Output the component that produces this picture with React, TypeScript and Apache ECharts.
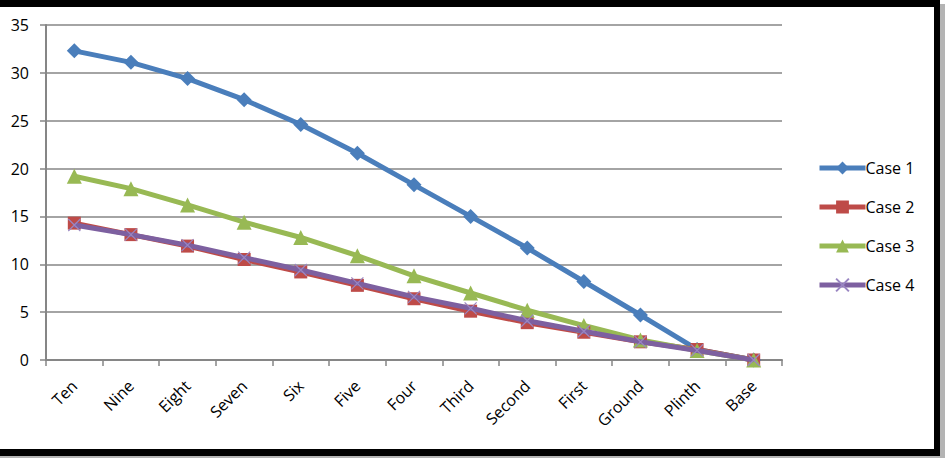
import React, { useEffect, useRef } from "react";
import * as echarts from "echarts";

const floors = ["Ten", "Nine", "Eight", "Seven", "Six", "Five", "Four", "Third", "Second", "First", "Ground", "Plinth", "Base"];
const case1 = [32.3, 31.1, 29.4, 27.2, 24.6, 21.6, 18.3, 15.0, 11.7, 8.2, 4.7, 1.1, 0];
const case2 = [14.3, 13.1, 11.9, 10.5, 9.2, 7.8, 6.4, 5.1, 3.9, 2.9, 1.9, 1.1, 0];
const case3 = [19.2, 17.9, 16.2, 14.4, 12.8, 10.9, 8.8, 7.0, 5.2, 3.6, 2.1, 1.0, 0];
const case4 = [14.1, 13.1, 12.0, 10.7, 9.4, 8.0, 6.6, 5.4, 4.1, 3.0, 1.9, 1.0, 0];
const seriesNames = ["Case 1", "Case 2", "Case 3", "Case 4"];
const colors = ["#4a7ebb", "#be4b48", "#98b954", "#7d60a0"];

const FONT = "'Open Sans', 'Liberation Sans', sans-serif";
const CROSS = "path://M0,0L10,10M10,0L0,10";

export default function App() {
  const ref = useRef<HTMLDivElement>(null);

  useEffect(() => {
    if (!ref.current) return;
    const chart = echarts.init(ref.current, null, { renderer: "svg" });
    const values = [case1, case2, case3, case4];
    const symbols = ["diamond", "rect", "triangle", CROSS];
    const sizes = [15, 13, 15, 12];

    chart.setOption({
      animation: false,
      backgroundColor: "#ffffff",
      grid: { left: 46, top: 25, width: 736, height: 335, containLabel: false },
      legend: {
        orient: "vertical",
        left: 812,
        top: 155,
        itemGap: 23,
        itemWidth: 46,
        itemHeight: 16,
        lineStyle: { width: 5 },
        textStyle: { fontFamily: FONT, fontSize: 16, color: "#000", padding: [0, 0, 0, -5] },
        data: seriesNames,
      },
      xAxis: {
        type: "category",
        data: floors,
        boundaryGap: true,
        axisLine: { lineStyle: { color: "#868686", width: 2 } },
        axisTick: { show: true, alignWithLabel: false, length: 6, lineStyle: { color: "#868686", width: 1.5 } },
        axisLabel: {
          interval: 0,
          rotate: 45,
          margin: 23,
          fontFamily: FONT,
          fontSize: 16,
          color: "#000",
        },
      },
      yAxis: {
        type: "value",
        min: 0,
        max: 35,
        interval: 5,
        axisLine: { show: true, lineStyle: { color: "#868686", width: 2 } },
        axisTick: { show: true, length: 6, lineStyle: { color: "#868686", width: 1.5 } },
        splitLine: { lineStyle: { color: "#868686", width: 1.5 } },
        axisLabel: { fontFamily: FONT, fontSize: 16, color: "#000", margin: 17 },
      },
      series: values.map((d, i) => ({
        name: seriesNames[i],
        type: "line",
        data: d,
        symbol: symbols[i],
        symbolSize: sizes[i],
        lineStyle: { color: colors[i], width: 5 },
        itemStyle:
          i === 3
            ? { color: "#9a86c2", borderColor: "#9a86c2", borderWidth: 1.2 }
            : { color: colors[i] },
        z: i === 3 ? 4 : 3,
      })),
      graphic: [
        { type: "rect", shape: { x: 0, y: 0, width: 940, height: 7 }, style: { fill: "#000" } },
        { type: "rect", shape: { x: 934, y: 0, width: 6, height: 456 }, style: { fill: "#000" } },
        { type: "rect", shape: { x: 0, y: 449, width: 940, height: 7 }, style: { fill: "#000" } },
        { type: "rect", shape: { x: 940, y: 4, width: 5, height: 454 }, style: { fill: "#b4b4b4" } },
        { type: "rect", shape: { x: 0, y: 456, width: 945, height: 2 }, style: { fill: "#b4b4b4" } },
      ],
    });

    return () => chart.dispose();
  }, []);

  return (
    <div style={{ position: "fixed", left: 0, top: 0, width: 945, height: 458 }}>
      <div ref={ref} style={{ width: 945, height: 458 }} />
    </div>
  );
}
